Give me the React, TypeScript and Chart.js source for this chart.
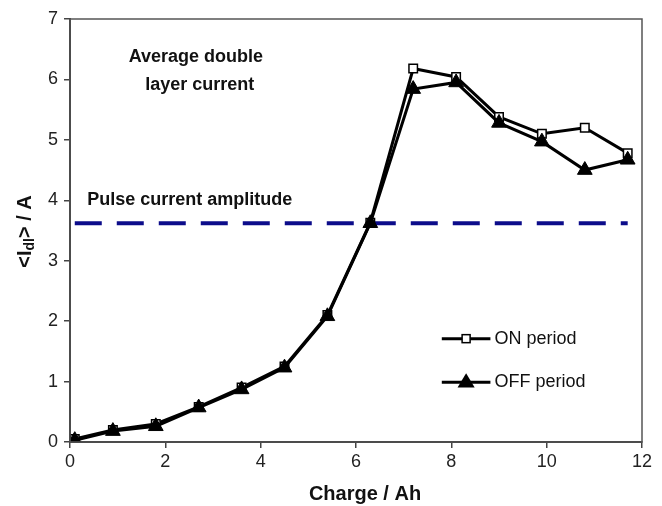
import React, { useEffect, useRef } from "react";
import { Chart, registerables } from "chart.js";

Chart.register(...registerables);

// Charge (Ah) for each measurement
const charge = [0.1, 0.9, 1.8, 2.7, 3.6, 4.5, 5.4, 6.3, 7.2, 8.1, 9.0, 9.9, 10.8, 11.7];
// Average double layer current (A)
const onPeriod = [0.05, 0.2, 0.3, 0.58, 0.9, 1.25, 2.1, 3.63, 6.18, 6.04, 5.38, 5.1, 5.2, 4.78];
const offPeriod = [0.03, 0.18, 0.26, 0.57, 0.87, 1.23, 2.08, 3.62, 5.84, 5.95, 5.28, 4.97, 4.5, 4.67];
// Pulse current amplitude reference line
const pulseX = [0.1, 11.7];
const pulseY = [3.62, 3.62];

const xTicks = [0, 2, 4, 6, 8, 10, 12];
const yTicks = [0, 1, 2, 3, 4, 5, 6, 7];

const seriesLabels = ["ON period", "OFF period"];
const annotationLines = ["Average double", "layer current"];
const pulseLabel = "Pulse current amplitude";
const xTitle = "Charge / Ah";

const FONT = "'Liberation Sans', Arial, sans-serif";

const overlayPlugin = {
  id: "overlay",
  afterDatasetsDraw(chart: any) {
    const { ctx, chartArea, scales } = chart;
    const xs = scales.x;
    const ys = scales.y;
    ctx.save();
    // frame
    ctx.strokeStyle = "#555";
    ctx.lineWidth = 1.5;
    ctx.strokeRect(chartArea.left, chartArea.top, chartArea.right - chartArea.left, chartArea.bottom - chartArea.top);

    // annotations
    ctx.fillStyle = "#111";
    ctx.font = `bold 18px ${FONT}`;
    ctx.textBaseline = "middle";
    ctx.textAlign = "center";
    ctx.fillText(annotationLines[0], xs.getPixelForValue(2.64), ys.getPixelForValue(6.37));
    ctx.fillText(annotationLines[1], xs.getPixelForValue(2.72), ys.getPixelForValue(5.91));
    ctx.textAlign = "left";
    ctx.fillText(pulseLabel, xs.getPixelForValue(0.36), ys.getPixelForValue(4.0));

    // legend
    const ds = chart.data.datasets;
    const legendRows = [
      { d: ds[1], y: ys.getPixelForValue(1.71), size: 4 },
      { d: ds[2], y: ys.getPixelForValue(0.99), size: 9 },
    ];
    const lx0 = xs.getPixelForValue(7.8);
    const lx1 = xs.getPixelForValue(8.82);
    const mx = (lx0 + lx1) / 2;
    legendRows.forEach((r, i) => {
      ctx.strokeStyle = "#000";
      ctx.lineWidth = 3;
      ctx.beginPath();
      ctx.moveTo(lx0, r.y);
      ctx.lineTo(lx1, r.y);
      ctx.stroke();
      if (i === 0) {
        ctx.fillStyle = "#fff";
        ctx.lineWidth = 1.5;
        ctx.fillRect(mx - r.size, r.y - r.size, r.size * 2, r.size * 2);
        ctx.strokeRect(mx - r.size, r.y - r.size, r.size * 2, r.size * 2);
      } else {
        ctx.fillStyle = "#000";
        ctx.beginPath();
        const s = r.size;
        ctx.moveTo(mx, r.y - s);
        ctx.lineTo(mx + s * 0.95, r.y + s * 0.6);
        ctx.lineTo(mx - s * 0.95, r.y + s * 0.6);
        ctx.closePath();
        ctx.fill();
      }
      ctx.fillStyle = "#111";
      ctx.font = `18px ${FONT}`;
      ctx.textAlign = "left";
      ctx.textBaseline = "middle";
      ctx.fillText(r.d.label, lx1 + 4, r.y);
    });

    // x title
    ctx.font = `bold 20px ${FONT}`;
    ctx.textAlign = "center";
    ctx.textBaseline = "middle";
    ctx.fillStyle = "#111";
    ctx.fillText(xTitle, (chartArea.left + chartArea.right) / 2 + 9, chart.height - 12);

    // y title with subscript
    ctx.translate(25, (chartArea.top + chartArea.bottom) / 2 + 1);
    ctx.rotate(-Math.PI / 2);
    const bigF = `bold 20px ${FONT}`;
    const smallF = `bold 14px ${FONT}`;
    const parts = [
      { t: "<I", f: bigF, dy: 0 },
      { t: "dl", f: smallF, dy: 5 },
      { t: "> / A", f: bigF, dy: 0 },
    ];
    let total = 0;
    parts.forEach((p) => {
      ctx.font = p.f;
      total += ctx.measureText(p.t).width;
    });
    let x = -total / 2;
    ctx.textAlign = "left";
    parts.forEach((p) => {
      ctx.font = p.f;
      ctx.fillText(p.t, x, p.dy);
      x += ctx.measureText(p.t).width;
    });
    ctx.restore();
  },
};

export default function App() {
  const ref = useRef<HTMLCanvasElement>(null);
  useEffect(() => {
    if (!ref.current) return;
    const chart = new Chart(ref.current, {
      type: "line",
      data: {
        datasets: [
          {
            label: pulseLabel,
            data: pulseX.map((x, i) => ({ x, y: pulseY[i] })),
            borderColor: "#0c0c8a",
            borderWidth: 4,
            borderDash: [27, 15],
            pointRadius: 0,
            order: 3,
          },
          {
            label: seriesLabels[0],
            data: charge.map((x, i) => ({ x, y: onPeriod[i] })),
            borderColor: "#000",
            borderWidth: 3,
            pointStyle: "rect",
            pointRadius: 6,
            pointBackgroundColor: "#fff",
            pointBorderColor: "#000",
            pointBorderWidth: 1.5,
            order: 2,
          },
          {
            label: seriesLabels[1],
            data: charge.map((x, i) => ({ x, y: offPeriod[i] })),
            borderColor: "#000",
            borderWidth: 3,
            pointStyle: "triangle",
            pointRadius: 8.5,
            pointBackgroundColor: "#000",
            pointBorderColor: "#000",
            pointBorderWidth: 1,
            order: 1,
          },
        ],
      },
      options: {
        responsive: false,
        animation: false,
        layout: { padding: { top: 19, right: 20, left: 0, bottom: 0 } },
        plugins: { legend: { display: false }, tooltip: { enabled: false } },
        scales: {
          x: {
            type: "linear",
            min: 0,
            max: 12,
            afterBuildTicks: (s: any) => {
              s.ticks = xTicks.map((v) => ({ value: v }));
            },
            afterFit: (s: any) => {
              s.height = 64;
            },
            ticks: { font: { family: FONT, size: 18 }, color: "#222", padding: 3, maxRotation: 0 },
            grid: { drawOnChartArea: false, drawTicks: true, tickLength: 6, color: "#444", lineWidth: 1.5 },
            border: { display: true, color: "#333", width: 2 },
          },
          y: {
            type: "linear",
            min: 0,
            max: 7,
            afterBuildTicks: (s: any) => {
              s.ticks = yTicks.map((v) => ({ value: v }));
            },
            afterFit: (s: any) => {
              s.width = 70;
            },
            ticks: { font: { family: FONT, size: 18 }, color: "#222", padding: 6 },
            grid: { drawOnChartArea: false, drawTicks: true, tickLength: 6, color: "#444", lineWidth: 1.5 },
            border: { display: true, color: "#333", width: 2 },
          },
        },
      },
      plugins: [overlayPlugin],
    } as any);
    return () => chart.destroy();
  }, []);
  return (
    <div style={{ position: "absolute", left: 0, top: 0, width: 662, height: 506, background: "#fff" }}>
      <canvas ref={ref} width={662} height={506} style={{ display: "block" }} />
    </div>
  );
}
